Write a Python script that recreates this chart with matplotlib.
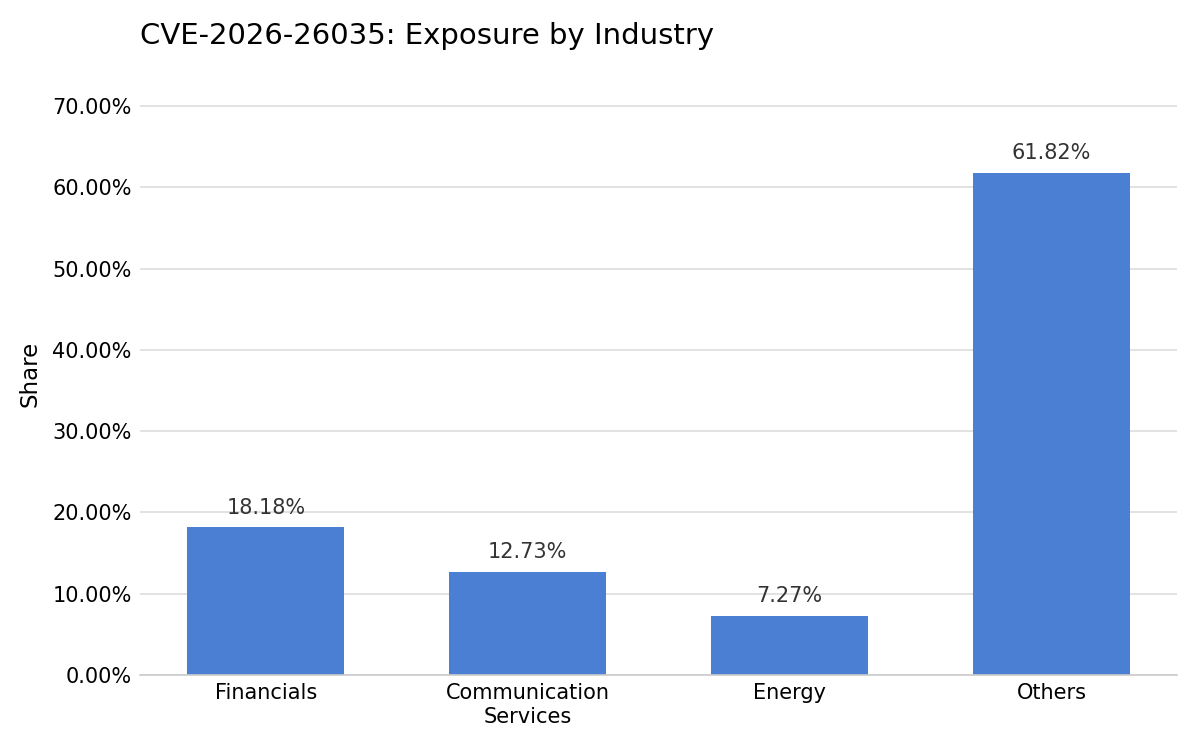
import matplotlib.pyplot as plt
from matplotlib.ticker import PercentFormatter

# Data
industries = ["Financials", "Communication\nServices", "Energy", "Others"]
shares = [18.18, 12.73, 7.27, 61.82]
bar_color = "#4a7fd4"

fig, ax = plt.subplots(figsize=(12, 7.5), dpi=100)
fig.subplots_adjust(left=0.1167, right=0.981, top=0.904, bottom=0.1)

bars = ax.bar(industries, shares, width=0.6, color=bar_color, zorder=2)

# Value labels above bars
for bar, val in zip(bars, shares):
    ax.annotate(f"{val:.2f}%", (bar.get_x() + bar.get_width() / 2, bar.get_height()),
                xytext=(0, 7), textcoords="offset points",
                ha="center", va="bottom", fontsize=15, color="#333333")

ax.set_ylim(0, 74.2)
ax.set_yticks(range(0, 71, 10))
ax.yaxis.set_major_formatter(PercentFormatter(decimals=2))
ax.set_ylabel("Share", fontsize=16.5, labelpad=8)
ax.set_title("CVE-2026-26035: Exposure by Industry", fontsize=21, loc="left", pad=20)

ax.grid(axis="y", color="#dddddd", linewidth=1.2, zorder=0)
ax.tick_params(axis="both", length=0, labelsize=15, pad=6)
for side in ["top", "right", "left"]:
    ax.spines[side].set_visible(False)
ax.spines["bottom"].set_color("#cccccc")
ax.spines["bottom"].set_linewidth(1.2)

fig.savefig("out.png", dpi=100)
